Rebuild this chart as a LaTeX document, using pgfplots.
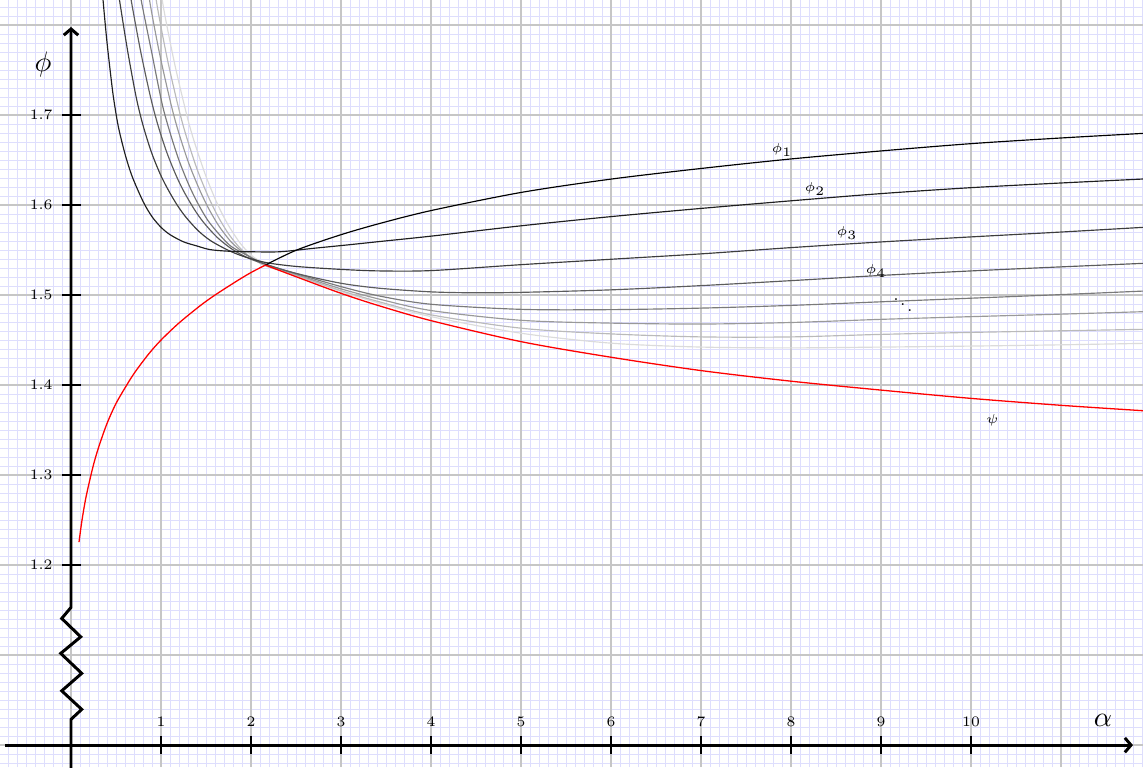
\documentclass[border=0pt]{standalone}
\usepackage{pgfplots}
\pgfplotsset{compat=1.18}
\usetikzlibrary{arrows.meta}
\definecolor{minorgrid}{RGB}{222,222,253}
\definecolor{majorgrid}{RGB}{198,198,198}
\begin{document}
\begin{tikzpicture}
\begin{axis}[
  scale only axis, width=443pt, height=297.3pt,
  xmin=-0.789, xmax=11.911, ymin=0.9756, ymax=1.8278,
  axis line style={draw=none},
  xtick={-0.7,-0.6,...,11.9},
  ytick={0.98,0.99,...,1.82},
  xticklabels={}, yticklabels={},
  major tick length=0pt, minor tick length=0pt,
  grid=major,
  major grid style={minorgrid, line width=0.35pt},
  extra x ticks={0,1,2,3,4,5,6,7,8,9,10,11},
  extra y ticks={1.0,1.1,1.2,1.3,1.4,1.5,1.6,1.7,1.8},
  extra x tick labels={}, extra y tick labels={},
  extra tick style={grid=major, major grid style={majorgrid, line width=0.55pt}, major tick length=0pt},
  clip=true,
]
% phi_8
\addplot[black!14, line width=0.45pt, smooth] coordinates {(0.983,1.8611) (1.019,1.8244) (1.15,1.7576) (1.294,1.6969) (1.377,1.6681) (1.5,1.6318) (1.633,1.5998) (1.741,1.5788) (1.86,1.5603) (1.955,1.5489) (2.05,1.5407) (2.24,1.5311) (2.5,1.5214) (3.0,1.5039) (3.433,1.4908) (4.007,1.4759) (5.007,1.4575) (6.007,1.4465) (7.007,1.4422) (8,1.4413) (9,1.4422) (10,1.4433) (11,1.4447) (11.91,1.4463) (12,1.4465)};
% phi_7
\addplot[black!27, line width=0.45pt, smooth] coordinates {(0.911,1.8611) (0.952,1.8244) (1.072,1.7614) (1.2,1.7059) (1.279,1.6771) (1.401,1.6398) (1.522,1.6101) (1.632,1.5876) (1.75,1.5681) (1.874,1.5526) (2.0,1.5416) (2.109,1.5348) (2.2,1.531) (2.5,1.5219) (3.0,1.5049) (3.433,1.4923) (4.007,1.4779) (5.007,1.4631) (6.007,1.4568) (7.007,1.4535) (8,1.4535) (9,1.4563) (10,1.4585) (11,1.4603) (11.91,1.4619) (12,1.4621)};
% phi_6
\addplot[black!40, line width=0.45pt, smooth] coordinates {(0.833,1.8611) (0.878,1.8244) (0.987,1.7668) (1.111,1.712) (1.191,1.6824) (1.299,1.649) (1.417,1.6196) (1.523,1.5973) (1.641,1.5771) (1.777,1.5593) (1.9,1.5483) (2.015,1.5408) (2.167,1.534) (2.5,1.5229) (3.0,1.5069) (3.433,1.4953) (4.007,1.4827) (5.007,1.4719) (6.007,1.4688) (7.007,1.4678) (8,1.4695) (9,1.473) (10,1.476) (11,1.4788) (11.91,1.4815) (12,1.4818)};
% phi_5
\addplot[black!52, line width=0.45pt, smooth] coordinates {(0.722,1.8611) (0.786,1.8244) (0.895,1.7703) (1.011,1.7131) (1.096,1.6819) (1.199,1.6499) (1.308,1.6227) (1.408,1.6021) (1.52,1.583) (1.646,1.5675) (1.767,1.555) (1.911,1.5465) (2.167,1.5339) (2.5,1.5239) (3.0,1.5094) (3.433,1.4988) (4.007,1.4897) (5.007,1.4841) (6.007,1.4838) (7.007,1.4855) (8,1.4885) (9,1.4925) (10,1.4965) (11,1.5005) (11.91,1.5044) (12,1.5048)};
% phi_4
\addplot[black!64, line width=0.45pt, smooth] coordinates {(0.611,1.8611) (0.674,1.8244) (0.775,1.7701) (0.883,1.7202) (0.964,1.6894) (1.061,1.6594) (1.167,1.633) (1.258,1.6143) (1.372,1.5949) (1.474,1.5806) (1.622,1.5643) (1.789,1.551) (1.975,1.5408) (2.167,1.5341) (2.5,1.5241) (3.0,1.5131) (3.433,1.5075) (4.007,1.5035) (4.5,1.5025) (5.007,1.503) (6.007,1.5058) (7.007,1.5105) (8,1.516) (9,1.5218) (10,1.5268) (11,1.5313) (11.91,1.5352) (12,1.5356)};
% phi_3
\addplot[black!76, line width=0.45pt, smooth] coordinates {(0.489,1.8611) (0.544,1.8244) (0.628,1.7719) (0.722,1.7209) (0.797,1.6897) (0.892,1.6591) (0.989,1.6349) (1.076,1.6176) (1.178,1.6002) (1.276,1.5866) (1.411,1.5717) (1.551,1.5604) (1.748,1.5497) (1.923,1.5427) (2.167,1.5361) (2.5,1.5318) (3.0,1.5285) (3.433,1.5268) (4.007,1.5272) (5.007,1.5338) (6.007,1.5398) (7.007,1.5458) (8,1.5527) (9,1.559) (10,1.5646) (11,1.57) (11.91,1.5752) (12,1.5757)};
% phi_2
\addplot[black!88, line width=0.45pt, smooth] coordinates {(0.328,1.863) (0.359,1.8244) (0.4,1.7807) (0.45,1.7366) (0.476,1.7167) (0.526,1.687) (0.6,1.6568) (0.68,1.6316) (0.803,1.6035) (0.9,1.5871) (1.0,1.5753) (1.1,1.5671) (1.248,1.5592) (1.4,1.5545) (1.544,1.5505) (1.75,1.5487) (1.989,1.5481) (2.322,1.5481) (2.692,1.5519) (3.063,1.5556) (3.433,1.5595) (4.007,1.5655) (5.007,1.577) (6.007,1.5872) (7.007,1.5963) (8,1.6047) (9,1.6127) (10,1.6193) (11,1.6245) (11.91,1.6289) (12,1.6293)};
% phi_1
\addplot[black, line width=0.45pt, smooth] coordinates {(2.16,1.5333) (2.507,1.55) (2.989,1.5667) (3.433,1.5796) (4.007,1.594) (5.007,1.6141) (6.007,1.6289) (7.007,1.6407) (8,1.6512) (9,1.6601) (10,1.6682) (11,1.6745) (11.91,1.6796) (12,1.6801)};
% psi
\addplot[red, line width=0.5pt, smooth] coordinates {(0.089,1.2255) (0.12,1.2485) (0.167,1.2757) (0.241,1.308) (0.3,1.3287) (0.396,1.3563) (0.5,1.3795) (0.619,1.4) (0.7,1.4128) (0.804,1.427) (0.9,1.439) (1.015,1.4515) (1.2,1.469) (1.433,1.488) (1.6,1.5) (1.841,1.5155) (2.0,1.525) (2.16,1.5333)};
\addplot[red, line width=0.5pt, smooth] coordinates {(2.16,1.5333) (2.5,1.5204) (3.0,1.5019) (3.433,1.4878) (4.007,1.4714) (5.007,1.4481) (6.007,1.4308) (7.007,1.416) (8,1.4043) (9,1.3944) (10,1.3852) (11,1.3775) (11.91,1.3715) (12,1.3709)};
% axes
\draw[line width=1.15pt, -{Straight Barb[length=2.4pt,width=5.6pt]}] (axis cs:-0.733,1.0) -- (axis cs:11.8,1.0);
\draw[line width=1.15pt, -{Straight Barb[length=2.4pt,width=5.6pt]}, line join=miter] (axis cs:0,0.96) -- (axis cs:0,1.0286) -- (axis cs:0.119,1.0397) -- (axis cs:-0.103,1.0603) -- (axis cs:0.119,1.0797) -- (axis cs:-0.114,1.1019) -- (axis cs:0.108,1.1203) -- (axis cs:-0.103,1.1407) -- (axis cs:0,1.153) -- (axis cs:0,1.7978);
% x ticks
\draw[line width=0.7pt] (axis cs:1,0.99) -- (axis cs:1,1.01);
\draw[line width=0.7pt] (axis cs:2,0.99) -- (axis cs:2,1.01);
\draw[line width=0.7pt] (axis cs:3,0.99) -- (axis cs:3,1.01);
\draw[line width=0.7pt] (axis cs:4,0.99) -- (axis cs:4,1.01);
\draw[line width=0.7pt] (axis cs:5,0.99) -- (axis cs:5,1.01);
\draw[line width=0.7pt] (axis cs:6,0.99) -- (axis cs:6,1.01);
\draw[line width=0.7pt] (axis cs:7,0.99) -- (axis cs:7,1.01);
\draw[line width=0.7pt] (axis cs:8,0.99) -- (axis cs:8,1.01);
\draw[line width=0.7pt] (axis cs:9,0.99) -- (axis cs:9,1.01);
\draw[line width=0.7pt] (axis cs:10,0.99) -- (axis cs:10,1.01);
\node[font=\fontsize{5.6}{6}\selectfont] at (axis cs:1,1.0256) {1};
\node[font=\fontsize{5.6}{6}\selectfont] at (axis cs:2,1.0256) {2};
\node[font=\fontsize{5.6}{6}\selectfont] at (axis cs:3,1.0256) {3};
\node[font=\fontsize{5.6}{6}\selectfont] at (axis cs:4,1.0256) {4};
\node[font=\fontsize{5.6}{6}\selectfont] at (axis cs:5,1.0256) {5};
\node[font=\fontsize{5.6}{6}\selectfont] at (axis cs:6,1.0256) {6};
\node[font=\fontsize{5.6}{6}\selectfont] at (axis cs:7,1.0256) {7};
\node[font=\fontsize{5.6}{6}\selectfont] at (axis cs:8,1.0256) {8};
\node[font=\fontsize{5.6}{6}\selectfont] at (axis cs:9,1.0256) {9};
\node[font=\fontsize{5.6}{6}\selectfont] at (axis cs:10,1.0256) {10};
% y ticks
\draw[line width=0.7pt] (axis cs:-0.1,1.2) -- (axis cs:0.111,1.2);
\draw[line width=0.7pt] (axis cs:-0.1,1.3) -- (axis cs:0.111,1.3);
\draw[line width=0.7pt] (axis cs:-0.1,1.4) -- (axis cs:0.111,1.4);
\draw[line width=0.7pt] (axis cs:-0.1,1.5) -- (axis cs:0.111,1.5);
\draw[line width=0.7pt] (axis cs:-0.1,1.6) -- (axis cs:0.111,1.6);
\draw[line width=0.7pt] (axis cs:-0.1,1.7) -- (axis cs:0.111,1.7);
\node[font=\fontsize{5.6}{6}\selectfont, anchor=east, inner sep=0pt] at (axis cs:-0.2,1.2) {1.2};
\node[font=\fontsize{5.6}{6}\selectfont, anchor=east, inner sep=0pt] at (axis cs:-0.2,1.3) {1.3};
\node[font=\fontsize{5.6}{6}\selectfont, anchor=east, inner sep=0pt] at (axis cs:-0.2,1.4) {1.4};
\node[font=\fontsize{5.6}{6}\selectfont, anchor=east, inner sep=0pt] at (axis cs:-0.2,1.5) {1.5};
\node[font=\fontsize{5.6}{6}\selectfont, anchor=east, inner sep=0pt] at (axis cs:-0.2,1.6) {1.6};
\node[font=\fontsize{5.6}{6}\selectfont, anchor=east, inner sep=0pt] at (axis cs:-0.2,1.7) {1.7};
% axis labels
\node[font=\fontsize{11}{13}\selectfont] at (axis cs:-0.311,1.7567) {$\phi$};
\node[font=\fontsize{11}{13}\selectfont] at (axis cs:11.467,1.0278) {$\alpha$};
% curve labels
\node[font=\tiny] at (axis cs:7.9,1.661) {$\phi_1$};
\node[font=\tiny] at (axis cs:8.267,1.6178) {$\phi_2$};
\node[font=\tiny] at (axis cs:8.622,1.5689) {$\phi_3$};
\node[font=\tiny] at (axis cs:8.944,1.5267) {$\phi_4$};
\node[font=\small, scale=0.75] at (axis cs:9.244,1.4955) {$\ddots$};
\node[font=\tiny] at (axis cs:10.237,1.3611) {$\psi$};
\end{axis}
\pgfresetboundingbox
\path[use as bounding box] (current axis.south west) rectangle (current axis.north east);
\end{tikzpicture}
\end{document}
